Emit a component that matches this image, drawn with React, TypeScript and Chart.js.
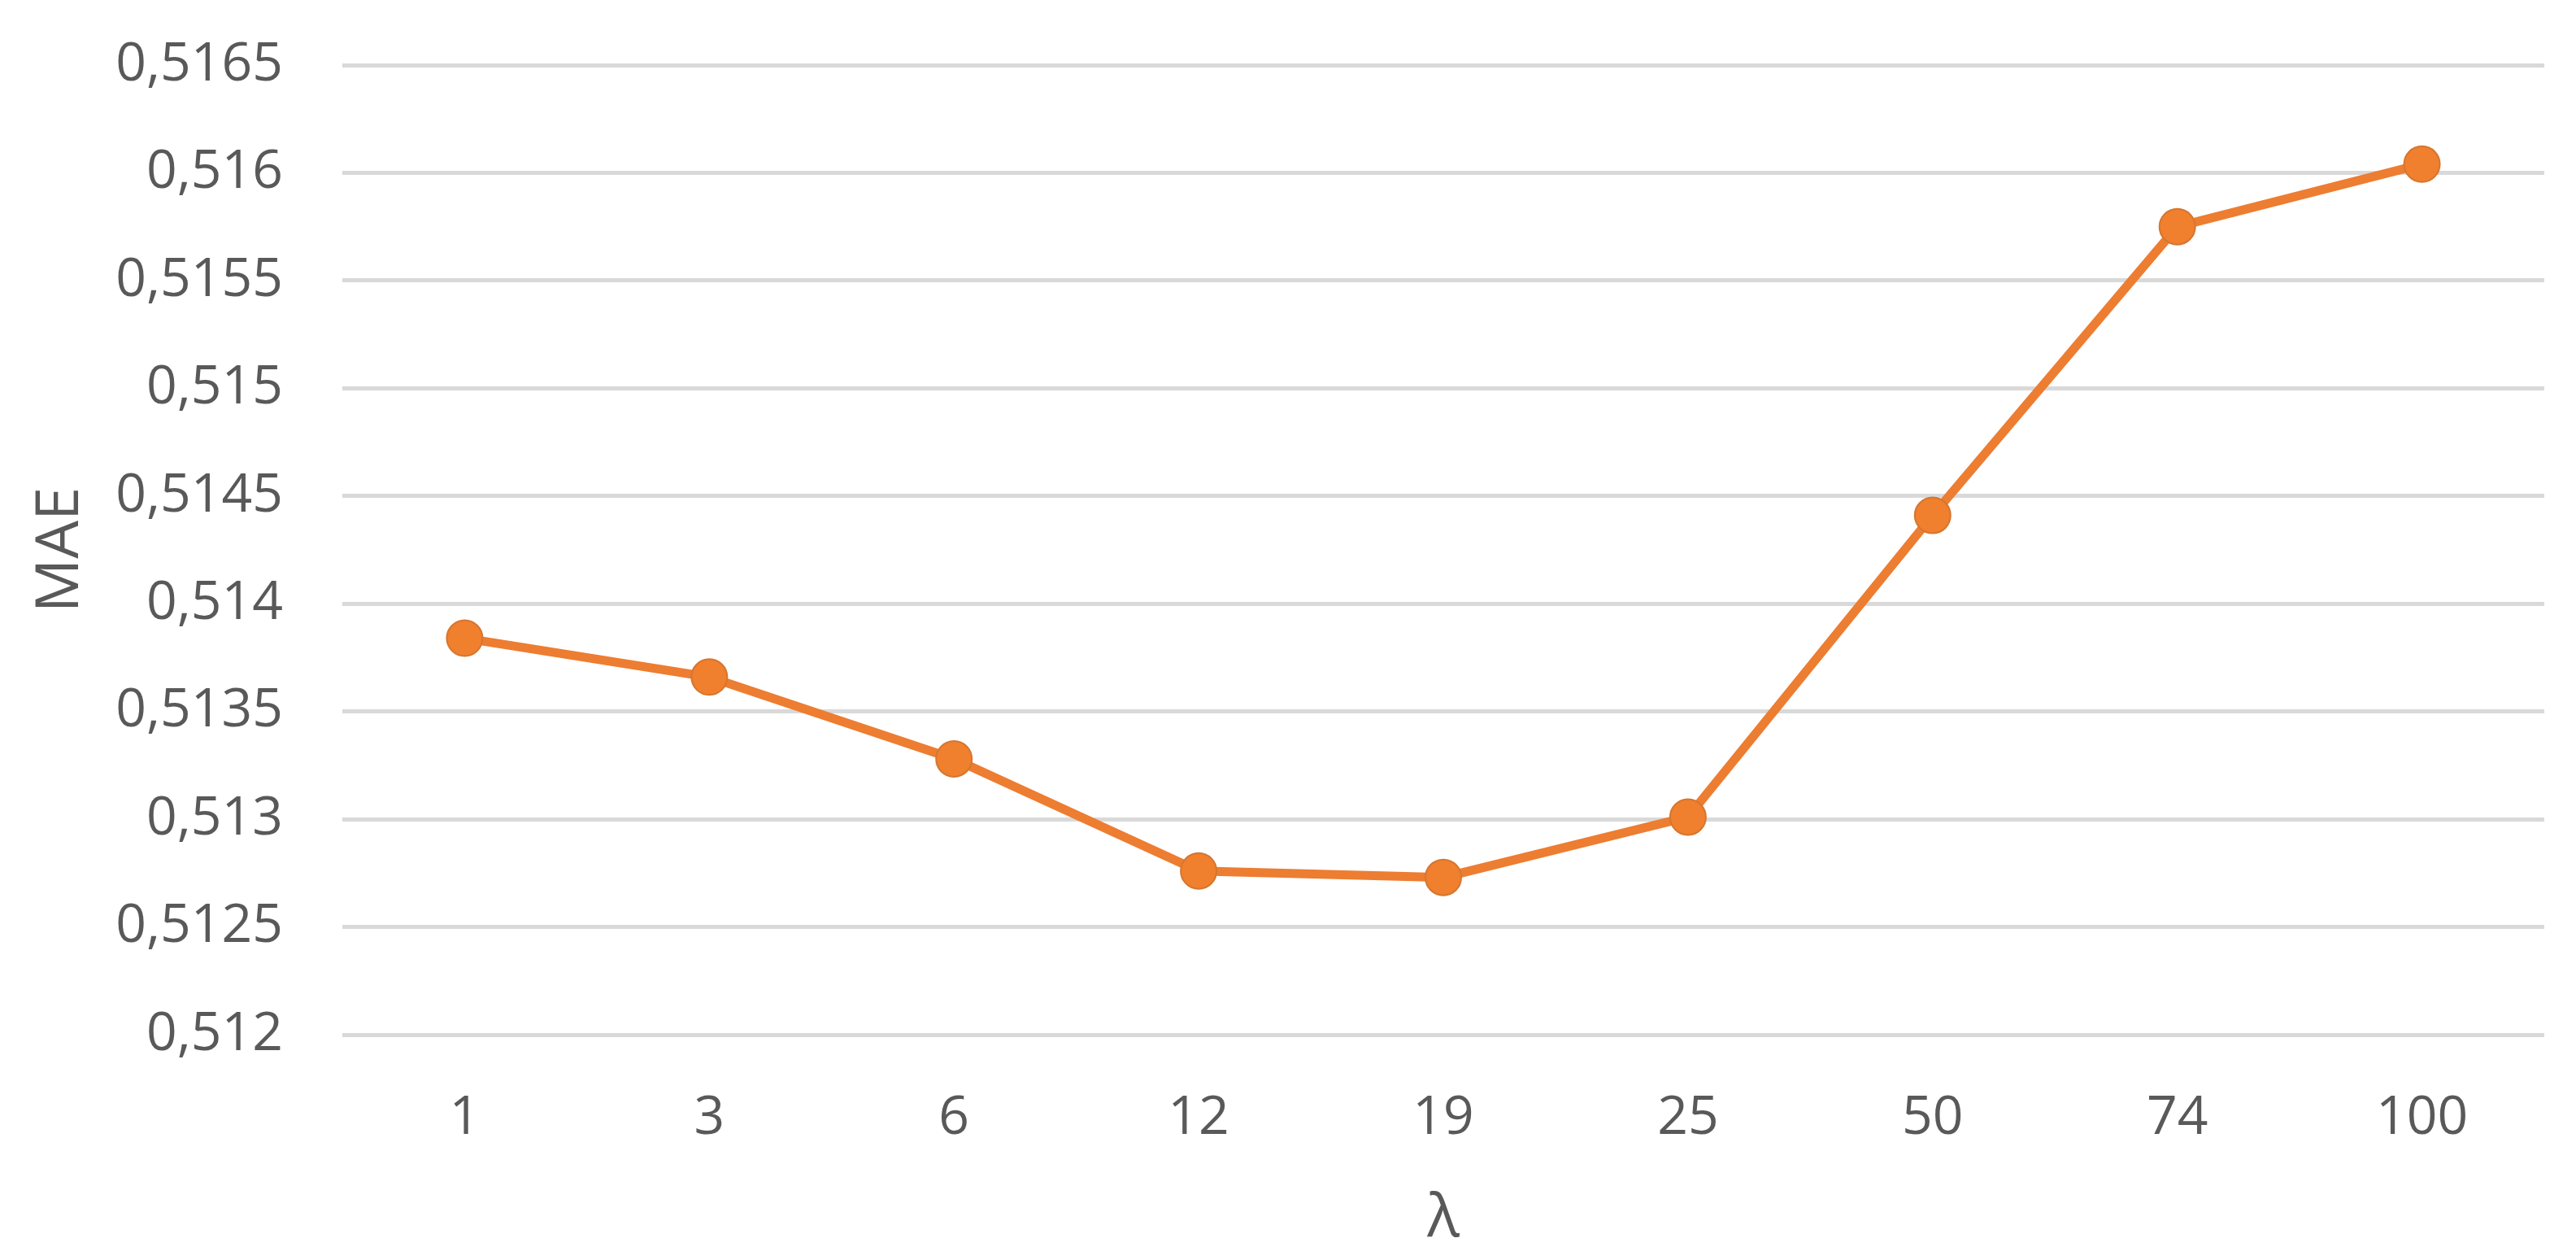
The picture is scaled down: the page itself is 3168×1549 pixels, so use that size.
import React, { useEffect, useRef } from "react";
import { Chart, registerables } from "chart.js";

Chart.register(...registerables);

const lambdaCategories = ["1", "3", "6", "12", "19", "25", "50", "74", "100"];
const maeValues = [0.51384, 0.51366, 0.51328, 0.51276, 0.51273, 0.51301, 0.51441, 0.51575, 0.51604];
const yTickValues = [0.512, 0.5125, 0.513, 0.5135, 0.514, 0.5145, 0.515, 0.5155, 0.516, 0.5165];
const yTickLabels = ["0,512", "0,5125", "0,513", "0,5135", "0,514", "0,5145", "0,515", "0,5155", "0,516", "0,5165"];
const xTitle = "λ";
const yTitle = "MAE";

const W = 3168;
const H = 1549;
const TEXT = "#595959";
const FONT = "'Open Sans', 'Noto Sans', sans-serif";

export default function App() {
  const ref = useRef<HTMLCanvasElement | null>(null);

  useEffect(() => {
    if (!ref.current) return;
    const chart = new Chart(ref.current, {
      type: "line",
      data: {
        labels: lambdaCategories,
        datasets: [
          {
            label: "MAE",
            data: maeValues,
            borderColor: "#ED7D31",
            borderWidth: 11,
            backgroundColor: "#ED7D31",
            pointRadius: 22,
            pointBackgroundColor: "#F07F2E",
            pointBorderColor: "#D5762F",
            pointBorderWidth: 2,
            tension: 0,
          },
        ],
      },
      options: {
        responsive: false,
        animation: false,
        devicePixelRatio: 1,
        layout: { padding: { top: 80, right: 39, left: 0, bottom: 0 } },
        plugins: { legend: { display: false }, tooltip: { enabled: false } },
        scales: {
          x: {
            offset: true,
            grid: { display: false, drawTicks: false },
            border: { display: false },
            ticks: { color: TEXT, font: { family: FONT, size: 66 }, padding: 64 },
            title: {
              display: true,
              text: xTitle,
              color: TEXT,
              font: { family: FONT, size: 74 },
              padding: { top: 0, bottom: 6 },
            },
            afterFit: (s: any) => {
              s.height = 277;
              s.paddingLeft = 0;
              s.paddingRight = 0;
            },
          },
          y: {
            min: 0.512,
            max: 0.5165,
            grid: { color: "#D9D9D9", lineWidth: 5, drawTicks: false },
            border: { display: false },
            ticks: {
              stepSize: 0.0005,
              color: TEXT,
              font: { family: FONT, size: 66 },
              padding: 73,
              callback: (v: any) => {
                let best = 0;
                for (let i = 0; i < yTickValues.length; i++) {
                  if (Math.abs(yTickValues[i] - v) < Math.abs(yTickValues[best] - v)) best = i;
                }
                return yTickLabels[best];
              },
            },
            title: {
              display: true,
              text: yTitle,
              color: TEXT,
              font: { family: FONT, size: 74 },
              padding: { top: 31, bottom: 0 },
            },
            afterFit: (s: any) => {
              s.width = 421;
              s.paddingTop = 0;
              s.paddingBottom = 0;
            },
          },
        },
      },
    });
    return () => chart.destroy();
  }, []);

  return (
    <div style={{ position: "fixed", left: 0, top: 0, width: W, height: H, background: "#fff" }}>
      <canvas ref={ref} width={W} height={H} style={{ width: W, height: H, display: "block" }} />
    </div>
  );
}
